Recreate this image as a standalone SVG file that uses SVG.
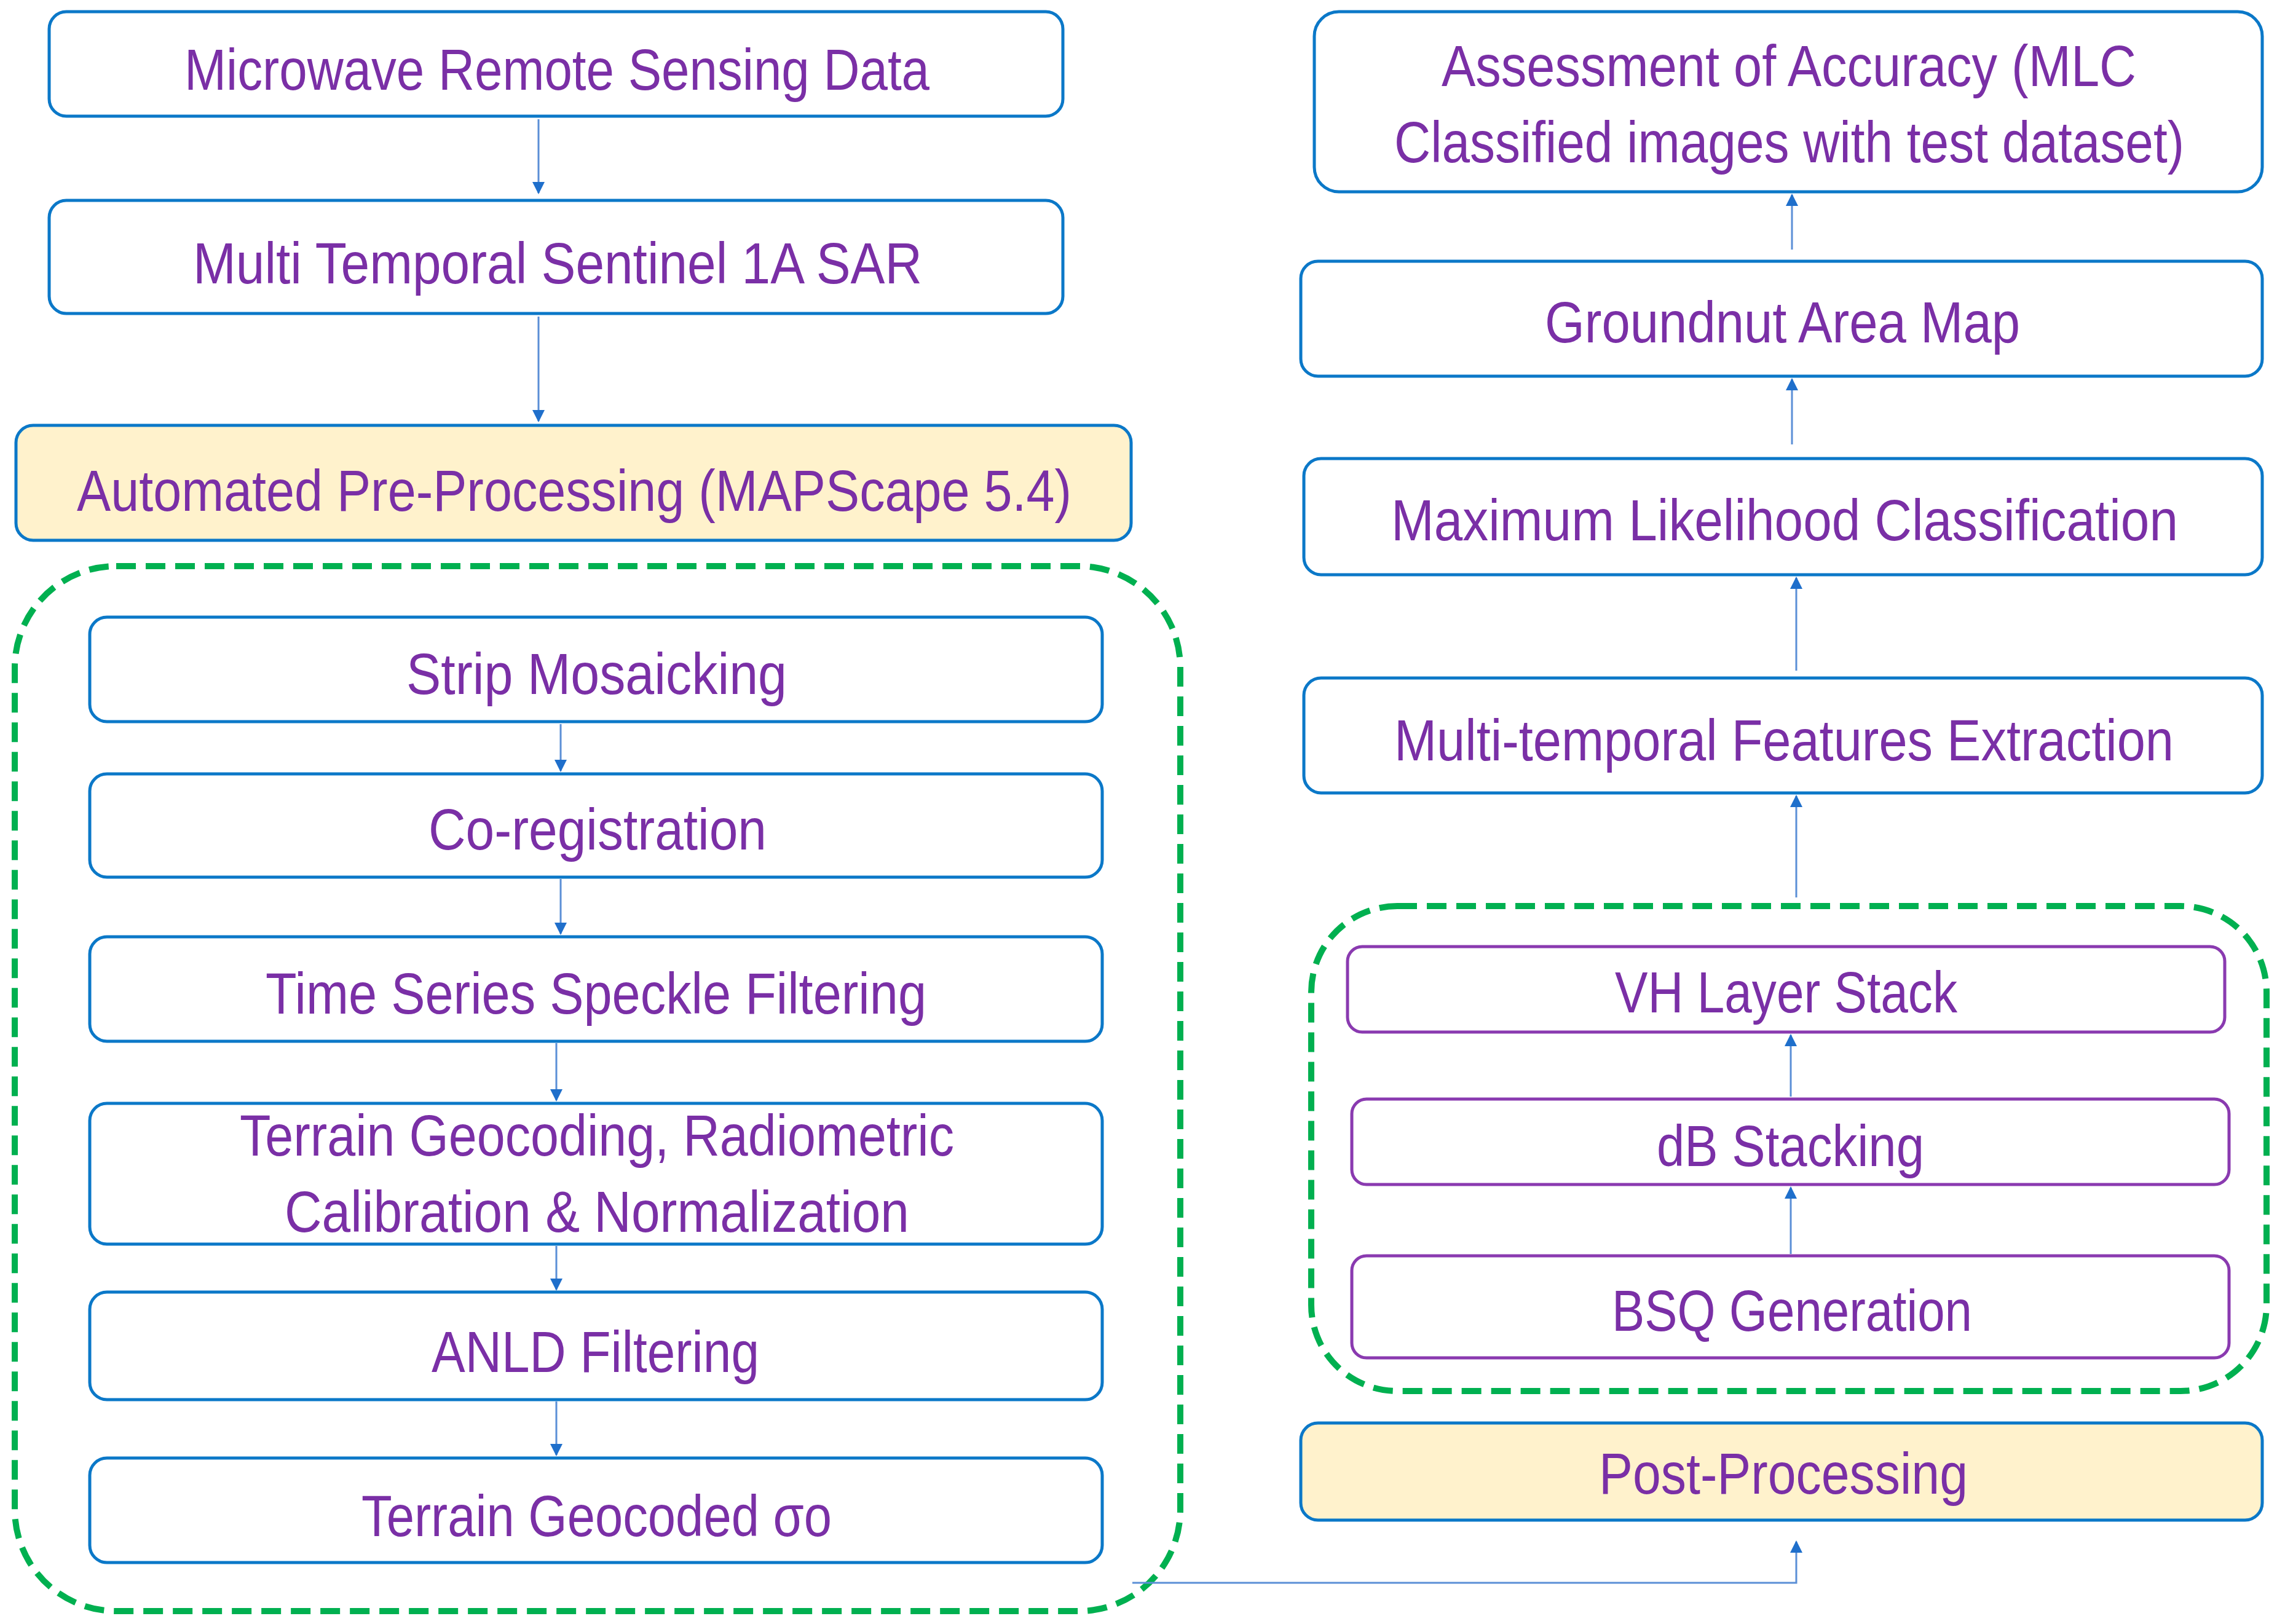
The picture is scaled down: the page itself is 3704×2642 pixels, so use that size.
<svg xmlns="http://www.w3.org/2000/svg" width="3704" height="2642" viewBox="0 0 3704 2642">
<defs>
<marker id="a" viewBox="0 0 10 10" refX="9" refY="5" markerWidth="30" markerHeight="20" markerUnits="userSpaceOnUse" orient="auto"><path d="M0,0 L10,5 L0,10 z" fill="#1F6FCB"/></marker>
</defs>
<style>
.b{fill:#fff;stroke:#0B78C8;stroke-width:5}
.y{fill:#FFF2CC;stroke:#0B78C8;stroke-width:5}
.p{fill:#fff;stroke:#8A3AB0;stroke-width:5}
.g{fill:none;stroke:#00B050;stroke-width:10;stroke-dasharray:32 16}
.t{font-family:"Liberation Sans",Arial,sans-serif;font-size:94px;fill:#7A2FA6;text-anchor:start}
.c{fill:none;stroke:#5B8FD6;stroke-width:3;marker-end:url(#a)}
</style>
<rect class="g" x="24" y="921" width="1896" height="1700" rx="165"/>
<rect class="g" x="2133" y="1474" width="1554" height="789" rx="140"/>
<g id="n1"><rect class="b" x="80" y="19" width="1649" height="170" rx="28"/><text class="t" x="300" y="146" textLength="1212" lengthAdjust="spacingAndGlyphs">Microwave Remote Sensing Data</text></g>
<g id="n2"><rect class="b" x="80" y="326" width="1649" height="184" rx="28"/><text class="t" x="314" y="461" textLength="1186" lengthAdjust="spacingAndGlyphs">Multi Temporal Sentinel 1A SAR</text></g>
<g id="n3"><rect class="y" x="26" y="692" width="1814" height="187" rx="28"/><text class="t" x="125" y="831" textLength="1618" lengthAdjust="spacingAndGlyphs">Automated Pre-Processing (MAPScape 5.4)</text></g>
<g id="n4"><rect class="b" x="146" y="1004" width="1647" height="170" rx="28"/><text class="t" x="661" y="1129" textLength="619" lengthAdjust="spacingAndGlyphs">Strip Mosaicking</text></g>
<g id="n5"><rect class="b" x="146" y="1259" width="1647" height="168" rx="28"/><text class="t" x="697" y="1382" textLength="550" lengthAdjust="spacingAndGlyphs">Co-registration</text></g>
<g id="n6"><rect class="b" x="146" y="1524" width="1647" height="170" rx="28"/><text class="t" x="432" y="1649" textLength="1075" lengthAdjust="spacingAndGlyphs">Time Series Speckle Filtering</text></g>
<g id="n7"><rect class="b" x="146" y="1795" width="1647" height="229" rx="28"/><text class="t" x="390" y="1880" textLength="1162" lengthAdjust="spacingAndGlyphs">Terrain Geocoding, Radiometric</text><text class="t" x="463" y="2004" textLength="1016" lengthAdjust="spacingAndGlyphs">Calibration &amp; Normalization</text></g>
<g id="n8"><rect class="b" x="146" y="2102" width="1647" height="175" rx="28"/><text class="t" x="702" y="2232" textLength="533" lengthAdjust="spacingAndGlyphs">ANLD Filtering</text></g>
<g id="n9"><rect class="b" x="146" y="2372" width="1647" height="170" rx="28"/><text class="t" x="588" y="2499" textLength="765" lengthAdjust="spacingAndGlyphs">Terrain Geocoded σo</text></g>
<g id="n10"><rect class="b" x="2138" y="19" width="1542" height="293" rx="40"/><text class="t" x="2345" y="140" textLength="1130" lengthAdjust="spacingAndGlyphs">Assessment of Accuracy (MLC</text><text class="t" x="2268" y="264" textLength="1285" lengthAdjust="spacingAndGlyphs">Classified images with test dataset)</text></g>
<g id="n11"><rect class="b" x="2116" y="425" width="1564" height="187" rx="28"/><text class="t" x="2513" y="557" textLength="773" lengthAdjust="spacingAndGlyphs">Groundnut Area Map</text></g>
<g id="n12"><rect class="b" x="2121" y="746" width="1559" height="189" rx="28"/><text class="t" x="2263" y="879" textLength="1280" lengthAdjust="spacingAndGlyphs">Maximum Likelihood Classification</text></g>
<g id="n13"><rect class="b" x="2121" y="1103" width="1559" height="187" rx="28"/><text class="t" x="2268" y="1237" textLength="1268" lengthAdjust="spacingAndGlyphs">Multi-temporal Features Extraction</text></g>
<g id="n14"><rect class="p" x="2192" y="1540" width="1427" height="139" rx="24"/><text class="t" x="2627" y="1647" textLength="557" lengthAdjust="spacingAndGlyphs">VH Layer Stack</text></g>
<g id="n15"><rect class="p" x="2199" y="1788" width="1427" height="139" rx="24"/><text class="t" x="2695" y="1897" textLength="435" lengthAdjust="spacingAndGlyphs">dB Stacking</text></g>
<g id="n16"><rect class="p" x="2199" y="2043" width="1427" height="166" rx="24"/><text class="t" x="2622" y="2165" textLength="586" lengthAdjust="spacingAndGlyphs">BSQ Generation</text></g>
<g id="n17"><rect class="y" x="2116" y="2315" width="1564" height="158" rx="28"/><text class="t" x="2601" y="2430" textLength="600" lengthAdjust="spacingAndGlyphs">Post-Processing</text></g>
<g id="connectors">
<path class="c" d="M876,194 V314"/>
<path class="c" d="M876,515 V685"/>
<path class="c" d="M912,1178 V1254"/>
<path class="c" d="M912,1430 V1519"/>
<path class="c" d="M905,1697 V1790"/>
<path class="c" d="M905,2027 V2098"/>
<path class="c" d="M905,2280 V2367"/>
<path class="c" d="M1842,2575 H2922 V2508"/>
<path class="c" d="M2913,2040 V1932"/>
<path class="c" d="M2913,1784 V1684"/>
<path class="c" d="M2922,1460 V1295"/>
<path class="c" d="M2922,1091 V940"/>
<path class="c" d="M2915,723 V617"/>
<path class="c" d="M2915,406 V317"/>
</g>
</svg>
